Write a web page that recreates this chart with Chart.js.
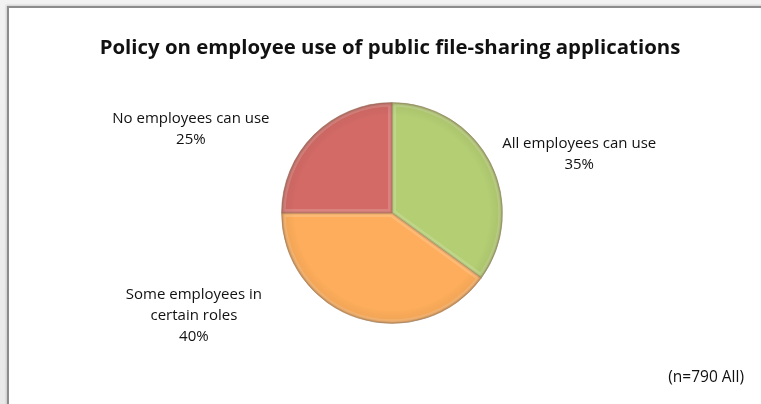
<!DOCTYPE html>
<html>
<head>
<meta charset="utf-8">
<script src="https://cdn.jsdelivr.net/npm/chart.js@4.4.1/dist/chart.umd.min.js"></script>
<style>
  html, body { margin: 0; padding: 0; width: 761px; height: 404px; overflow: hidden; }
  body { background: linear-gradient(to bottom, #f2f2f2, #e9e9e9); position: relative; }
  #frame {
    position: absolute; left: 7px; top: 6px; width: 800px; height: 420px;
    background: #ffffff; border-left: 2px solid #8c8c8c; border-top: 2px solid #8c8c8c;
    box-shadow: -1px -1px 2px rgba(0,0,0,0.15);
  }
  #wrap { position: absolute; left: 0; top: 0; width: 761px; height: 404px; }
</style>
</head>
<body>
<div id="frame"></div>
<div id="wrap"><canvas id="chart" width="761" height="404"></canvas></div>
<script>
// Policy on employee use of public file-sharing applications (n=790)
const categories = ["All employees can use", "Some employees in certain roles", "No employees can use"];
const labelLines = [["All employees can use"], ["Some employees in", "certain roles"], ["No employees can use"]];
const shares = [35, 40, 25];
const sliceColors = ["#b3ce73", "#fdad5b", "#d36a66"];
const chartTitle = "Policy on employee use of public file-sharing applications";
const sampleNote = "(n=790 All)";

// label anchor offsets from the pie centre, in units of the radius
const labelOffsets = [[1.694, -0.535], [-1.793, 0.93], [-1.82, -0.76]];

const bevelPlugin = {
  id: 'bevel',
  afterDatasetDraw(chart) {
    const ctx = chart.ctx;
    const meta = chart.getDatasetMeta(0);
    meta.data.forEach((arc) => {
      const { x, y, startAngle, endAngle, outerRadius } = arc.getProps(['x', 'y', 'startAngle', 'endAngle', 'outerRadius'], true);
      ctx.save();
      ctx.beginPath();
      ctx.moveTo(x, y);
      ctx.arc(x, y, outerRadius, startAngle, endAngle);
      ctx.closePath();
      ctx.clip();
      // soft darker rim along the outer edge
      const g = ctx.createRadialGradient(x, y, outerRadius * 0.88, x, y, outerRadius);
      g.addColorStop(0, 'rgba(0,0,0,0)');
      g.addColorStop(0.7, 'rgba(60,40,20,0.05)');
      g.addColorStop(1, 'rgba(60,40,20,0.24)');
      ctx.fillStyle = g;
      ctx.fillRect(x - outerRadius, y - outerRadius, outerRadius * 2, outerRadius * 2);
      // inner bevel along the straight edges
      ctx.beginPath();
      ctx.moveTo(x, y);
      ctx.arc(x, y, outerRadius, startAngle, endAngle);
      ctx.closePath();
      ctx.lineJoin = 'round';
      ctx.strokeStyle = 'rgba(255,255,255,0.16)';
      ctx.lineWidth = 8;
      ctx.stroke();
      ctx.strokeStyle = 'rgba(90,60,30,0.14)';
      ctx.lineWidth = 3;
      ctx.stroke();
      ctx.restore();
    });
  }
};

const textPlugin = {
  id: 'texts',
  afterDraw(chart) {
    const ctx = chart.ctx;
    const meta = chart.getDatasetMeta(0);
    const arc0 = meta.data[0];
    const cx = arc0.x, cy = arc0.y, r = arc0.outerRadius;
    ctx.save();
    ctx.fillStyle = '#111';
    ctx.textAlign = 'center';
    ctx.textBaseline = 'middle';
    ctx.font = 'bold 20.4px "Open Sans"';
    ctx.fillText(chartTitle, 390, 48);
    ctx.font = '15px "Open Sans"';
    labelLines.forEach((lines, i) => {
      const allLines = lines.concat([shares[i] + '%']);
      const lx = cx + labelOffsets[i][0] * r;
      const ly = cy + labelOffsets[i][1] * r;
      const lh = 21;
      const top = ly - (allLines.length - 1) * lh / 2;
      allLines.forEach((t, k) => ctx.fillText(t, lx, top + k * lh));
    });
    ctx.textAlign = 'right';
    ctx.font = '15.5px "Open Sans"';
    ctx.fillText(sampleNote, 744, 378);
    ctx.restore();
  }
};

new Chart(document.getElementById('chart'), {
  type: 'pie',
  data: {
    labels: categories,
    datasets: [{
      data: shares,
      backgroundColor: sliceColors,
      borderColor: 'rgba(120,90,60,0.35)',
      borderWidth: 1
    }]
  },
  options: {
    responsive: false,
    animation: false,
    layout: { padding: { top: 102, bottom: 80, left: 23, right: 0 } },
    plugins: {
      legend: { display: false },
      tooltip: { enabled: false },
      title: { display: false }
    }
  },
  plugins: [bevelPlugin, textPlugin]
});
</script>
</body>
</html>
